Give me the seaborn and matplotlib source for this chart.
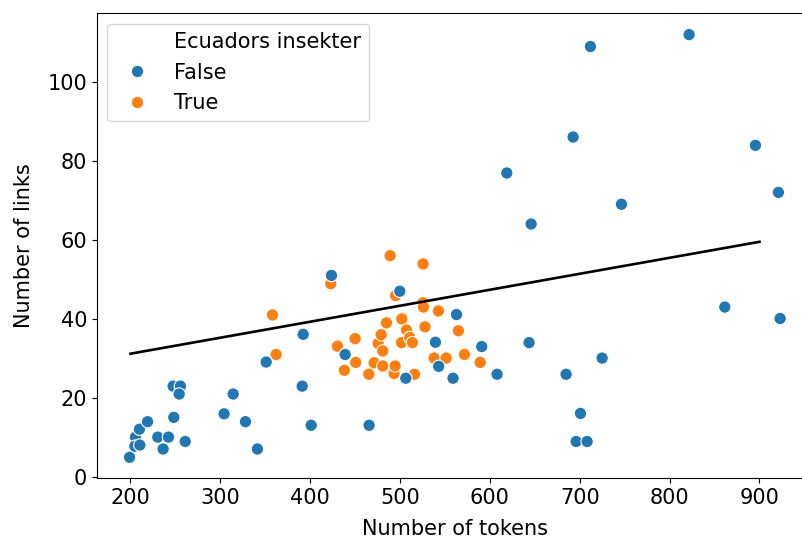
import pandas as pd
import matplotlib
matplotlib.use("Agg")
import matplotlib.pyplot as plt
from matplotlib.lines import Line2D
import seaborn as sns

# Points
false_tokens = [199, 205.6, 204.8, 210.4, 210, 219, 230.4, 236.3, 242.3, 248.2,
                247.5, 255.6, 254.2, 260.9, 304.2, 314.3, 328, 341.3, 351, 392.2,
                391.1, 401.1, 438.9, 423.7, 465.6, 506.4, 539.4, 543, 559, 562.8,
                590.9, 608, 618.8, 643.6, 645.9, 684.8, 692.6, 696, 700.8, 708.2,
                711.9, 724.9, 746.4, 821.7, 861.4, 895.5, 921.1, 923, 499.7]
false_links = [5.1, 10.2, 7.9, 8.2, 12.2, 14.1, 10.2, 7.2, 10.2, 15.2,
               23.1, 23.1, 21.1, 9.1, 16.1, 21.1, 14.1, 7.2, 29.2, 36.2,
               23.1, 13.2, 31.1, 51.1, 13.2, 25.1, 34.2, 28.1, 25.1, 41.2,
               33.1, 26.1, 77.0, 34.1, 64.1, 26.1, 86.1, 9.1, 16.2, 9.1,
               109.0, 30.2, 69.1, 112.0, 43.1, 84.0, 72.1, 40.2, 47.1]

true_tokens = [358, 362.1, 422.9, 430.4, 438.1, 450, 450.7, 465.2, 471.2, 475.6,
               479, 480.8, 480.8, 484.9, 489, 493.4, 494.5, 495, 501.6, 502,
               507.2, 510.8, 513.8, 516.1, 525.6, 525.6, 526, 527.8, 537.9, 542.7,
               551.3, 565, 571.7, 589.2]
true_links = [41.1, 31.1, 49.0, 33.2, 27.1, 35.1, 29.1, 26.1, 29.0, 33.9,
              36.1, 32.0, 28.2, 39.1, 56.1, 26.3, 28.2, 46.0, 34.1, 40.1,
              37.3, 35.4, 34.1, 26.1, 54.0, 44.2, 43.1, 38.1, 30.2, 42.1,
              30.2, 37.1, 31.1, 29.1]

# fitted line endpoints
line_x = [200, 900]
line_y = [31.3, 59.6]

hue_name = "Ecuadors insekter"
df = pd.concat([
    pd.DataFrame({"tokens": true_tokens, "links": true_links, hue_name: "True"}),
    pd.DataFrame({"tokens": false_tokens, "links": false_links, hue_name: "False"}),
], ignore_index=True)

plt.rcParams["font.size"] = 15

fig = plt.figure(figsize=(8.02, 5.42), dpi=100)
ax = fig.add_axes([0.121, 0.1173, 0.8923, 0.8578])

sns.scatterplot(data=df, x="tokens", y="links", hue=hue_name,
                hue_order=["False", "True"],
                palette={"False": "#1f77b4", "True": "#ff7f0e"},
                s=80, edgecolor="white", linewidth=0.8, ax=ax)
sns.lineplot(x=line_x, y=line_y, color="black", linewidth=1.9, ax=ax)

ax.set_xlabel("Number of tokens", labelpad=8)
ax.set_ylabel("Number of links", labelpad=10)

# old-style seaborn legend: title shown as a blank entry
handles, labels = ax.get_legend_handles_labels()
blank = Line2D([], [], linestyle="none")
ax.legend([blank] + handles[:2], [hue_name] + labels[:2], loc="upper left")

fig.savefig("out.png", dpi=100)
